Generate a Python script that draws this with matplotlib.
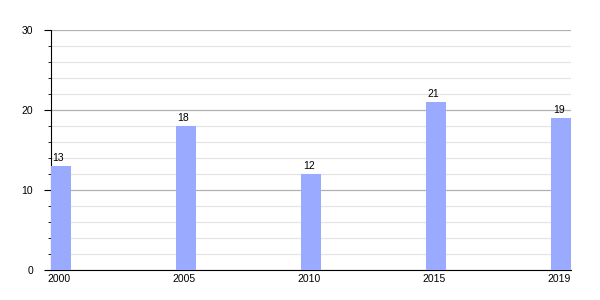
import numpy as np
import matplotlib.pyplot as plt
from matplotlib.ticker import MultipleLocator
from matplotlib.transforms import ScaledTranslation

plt.rcParams['font.family'] = ['Liberation Sans', 'DejaVu Sans']

years = ['2000', '2005', '2010', '2015', '2019']
values = [13, 18, 12, 21, 19]

fig = plt.figure(figsize=(6, 3), dpi=100)
ax = fig.add_axes([0.085, 0.1, 0.867, 0.8])

# labels sit a little left of the bar centres in the original
shift = ScaledTranslation(-2.5 / 100, 0, fig.dpi_scale_trans)

x = np.arange(len(years))
w = 0.16
ax.bar(x, values, width=w, color='#9aabff', zorder=3)
for xi, v in zip(x, values):
    ax.text(xi, v + 0.4, str(v), ha='center', va='bottom', fontsize=7.5,
            zorder=4, transform=ax.transData + shift)

ax.set_xlim(-w / 2, len(years) - 1 + w / 2)
ax.set_ylim(0, 30)
ax.set_xticks(x - 0.02)
ax.set_xticklabels(years)
ax.yaxis.set_major_locator(MultipleLocator(10))
ax.yaxis.set_minor_locator(MultipleLocator(2))

ax.grid(axis='y', which='major', color='#b0b0b0', linewidth=0.9, zorder=0)
ax.grid(axis='y', which='minor', color='#e4e4e4', linewidth=0.9, zorder=0)

for s in ['top', 'right']:
    ax.spines[s].set_visible(False)
ax.tick_params(axis='x', length=0, labelsize=7.5, pad=3)
ax.tick_params(axis='y', which='major', length=5, labelsize=7.5, pad=8)
ax.tick_params(axis='y', which='minor', length=2.5)

fig.savefig('out.png', dpi=100)
